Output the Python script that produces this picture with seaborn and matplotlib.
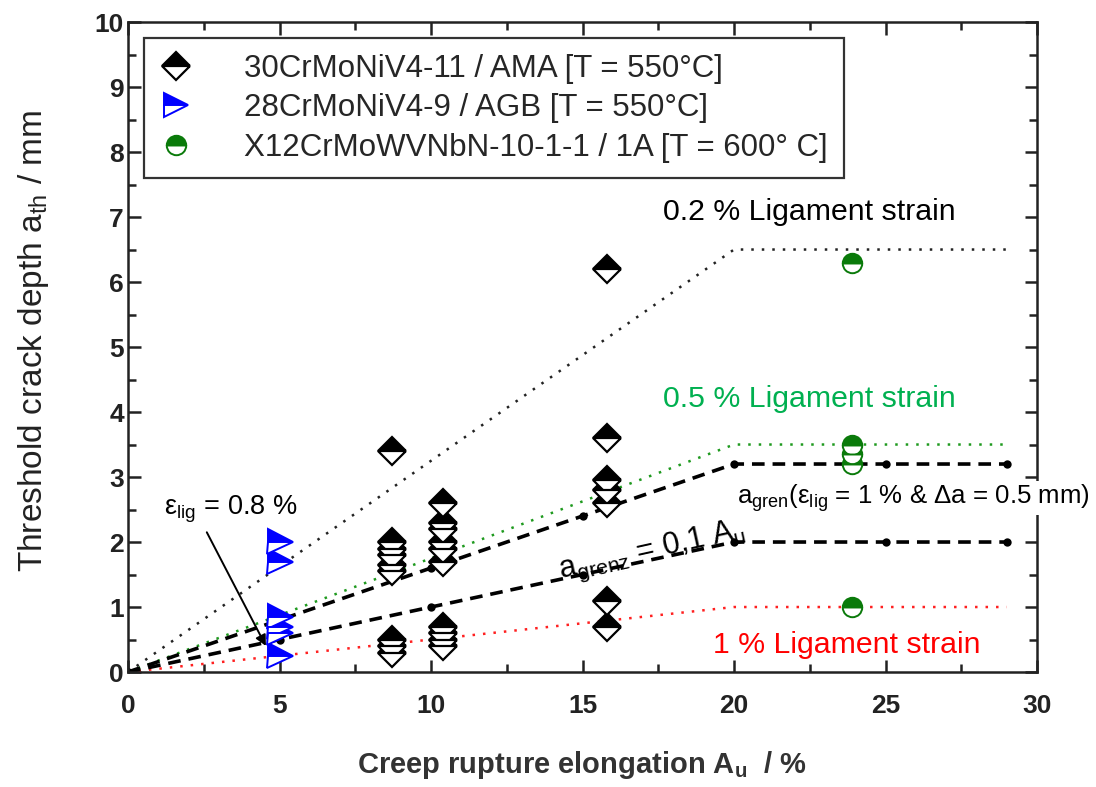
import numpy as np
import pandas as pd
import matplotlib
matplotlib.use("Agg")
import matplotlib.pyplot as plt
import seaborn as sns

# --- measured threshold crack depths -------------------------------------
ama_x = [8.7] * 9 + [10.4] * 10 + [15.8] * 7
ama_y = [3.4, 2.0, 1.9, 1.8, 1.65, 1.55, 0.5, 0.4, 0.3,
         2.6, 2.3, 2.2, 2.0, 1.9, 1.7, 0.7, 0.6, 0.5, 0.4,
         6.2, 3.6, 2.95, 2.8, 2.6, 1.1, 0.7]

agb_x = [5.0] * 6
agb_y = [2.0, 1.7, 0.85, 0.7, 0.6, 0.25]

x12_x = [23.9] * 5
x12_y = [6.3, 3.5, 3.35, 3.2, 1.0]

# --- ligament strain limits (dotted) --------------------------------------
lig_x = [0, 20, 29]
lig02_y = [0, 6.5, 6.5]
lig05_y = [0, 3.5, 3.5]
lig10_y = [0, 1.0, 1.0]

# --- a_grenz curves (dashed with points) ----------------------------------
grenz_x = [0, 5, 10, 15, 20, 25, 29]
grenz_upper_y = [0, 0.8, 1.6, 2.4, 3.2, 3.2, 3.2]
grenz_lower_y = [0, 0.5, 1.0, 1.5, 2.0, 2.0, 2.0]

legend_labels = ["30CrMoNiV4-11 / AMA [T = 550°C]",
                 "28CrMoNiV4-9 / AGB [T = 550°C]",
                 "X12CrMoWVNbN-10-1-1 / 1A [T = 600° C]"]

sns.set_theme(style="ticks")
plt.rcParams["font.family"] = ["Liberation Sans", "DejaVu Sans"]
plt.rcParams["mathtext.fontset"] = "custom"
plt.rcParams["mathtext.rm"] = "Liberation Sans"
plt.rcParams["mathtext.it"] = "Liberation Sans"
plt.rcParams["mathtext.bf"] = "Liberation Sans:bold"
plt.rcParams["mathtext.default"] = "regular"

fig = plt.figure(figsize=(10.96, 7.87), dpi=100)
ax = fig.add_axes([0.1168, 0.1461, 0.8294, 0.8259])

line_kw = dict(ax=ax, estimator=None, sort=False, legend=False)

# dotted ligament strain lines
sns.lineplot(x=lig_x, y=lig02_y, color="#222222", lw=1.8, linestyle=(0, (1, 3.2)), **line_kw)
sns.lineplot(x=lig_x, y=lig05_y, color="#1f9a1f", lw=1.8, linestyle=(0, (1, 3.2)), **line_kw)
sns.lineplot(x=lig_x, y=lig10_y, color="#ff2020", lw=1.8, linestyle=(0, (1, 3.2)), **line_kw)

# dashed a_grenz lines
for gy in (grenz_upper_y, grenz_lower_y):
    sns.lineplot(x=grenz_x, y=gy, color="black", lw=2.6, linestyle=(0, (3.5, 2.2)),
                 marker="o", markersize=6, markeredgewidth=0, **line_kw)

# half-filled data markers
mk_common = dict(linestyle="", fillstyle="top", markerfacecoloralt="white", **line_kw)
sns.lineplot(x=ama_x, y=ama_y, marker="D", markersize=14.5, color="black",
             markerfacecolor="black", markeredgecolor="black", markeredgewidth=1.6, **mk_common)
sns.lineplot(x=agb_x, y=agb_y, marker=">", markersize=18, color="blue",
             markerfacecolor="blue", markeredgecolor="blue", markeredgewidth=1.4, **mk_common)
sns.lineplot(x=x12_x, y=x12_y, marker="o", markersize=14, color="#0a7a0a",
             markerfacecolor="#0a7a0a", markeredgecolor="#0a7a0a", markeredgewidth=1.4, **mk_common)

ax.set_xlim(0, 30)
ax.set_ylim(0, 10)
ax.set_xticks([0, 5, 10, 15, 20, 25, 30])
ax.set_xticks([2.5, 7.5, 12.5, 17.5, 22.5, 27.5], minor=True)
ax.set_yticks(range(0, 11))
ax.set_yticks(np.arange(0.5, 10, 1.0), minor=True)
ax.tick_params(which="both", direction="in", top=True, right=True,
               width=1.8, color="#222222")
ax.tick_params(which="major", length=9, labelsize=19, labelcolor="#222222")
ax.tick_params(axis="x", which="major", pad=16)
ax.tick_params(axis="y", which="major", pad=3)
ax.tick_params(which="minor", length=6)
for lab in ax.get_xticklabels() + ax.get_yticklabels():
    lab.set_fontweight("bold")
for sp in ax.spines.values():
    sp.set_linewidth(1.8)
    sp.set_color("#222222")

ax.set_xlabel("Creep rupture elongation A$_\\mathbf{u}$  / %", fontsize=21,
              fontweight="bold", color="#333333", labelpad=22)
ax.set_ylabel("Threshold crack depth a$_{th}$ / mm", fontsize=24,
              color="#222222", labelpad=28)
ax.yaxis.set_label_coords(-0.085, 0.51)

# legend
handles = [
    plt.Line2D([], [], linestyle="", marker="D", markersize=14, fillstyle="top",
               markerfacecolor="black", markerfacecoloralt="white",
               markeredgecolor="black", markeredgewidth=1.6),
    plt.Line2D([], [], linestyle="", marker=">", markersize=17, fillstyle="top",
               markerfacecolor="blue", markerfacecoloralt="white",
               markeredgecolor="blue", markeredgewidth=1.4),
    plt.Line2D([], [], linestyle="", marker="o", markersize=14, fillstyle="top",
               markerfacecolor="#0a7a0a", markerfacecoloralt="white",
               markeredgecolor="#0a7a0a", markeredgewidth=1.4),
]
leg = ax.legend(handles, legend_labels, loc="upper left",
                bbox_to_anchor=(0.018, 0.975), fontsize=22.5, frameon=True,
                fancybox=False, shadow=False, borderpad=0.5, handletextpad=1.7,
                labelspacing=0.3, handlelength=1.0, borderaxespad=0)
leg.get_frame().set_edgecolor("black")
leg.get_frame().set_linewidth(1.6)

# annotations
ax.text(17.65, 7.08, "0.2 % Ligament strain", fontsize=21.8, color="black",
        va="center", ha="left")
ax.text(17.65, 4.2, "0.5 % Ligament strain", fontsize=21.8, color="#00b050",
        va="center", ha="left")
ax.text(19.3, 0.42, "1 % Ligament strain", fontsize=21.8, color="#ff0000",
        va="center", ha="left")
ax.text(17.3, 1.85, "a$_{grenz}$ = 0,1 A$_u$", fontsize=22, color="black",
        rotation=12.5, rotation_mode="anchor", va="center", ha="center")
ax.text(20.1, 2.68, "a$_{gren}$(ε$_{lig}$ = 1 % & Δa = 0.5 mm)", fontsize=18.6,
        color="black", va="center", ha="left", clip_on=False, zorder=5,
        bbox=dict(facecolor="white", edgecolor="none", pad=1))
ax.text(1.2, 2.5, "ε$_{lig}$ = 0.8 %", fontsize=19.5, color="black",
        va="center", ha="left")
ax.annotate("", xy=(4.55, 0.4), xytext=(2.6, 2.15),
            arrowprops=dict(arrowstyle="-|>", color="black", lw=1.4,
                            shrinkA=0, shrinkB=0, mutation_scale=16))

fig.savefig("out.png", dpi=100)
